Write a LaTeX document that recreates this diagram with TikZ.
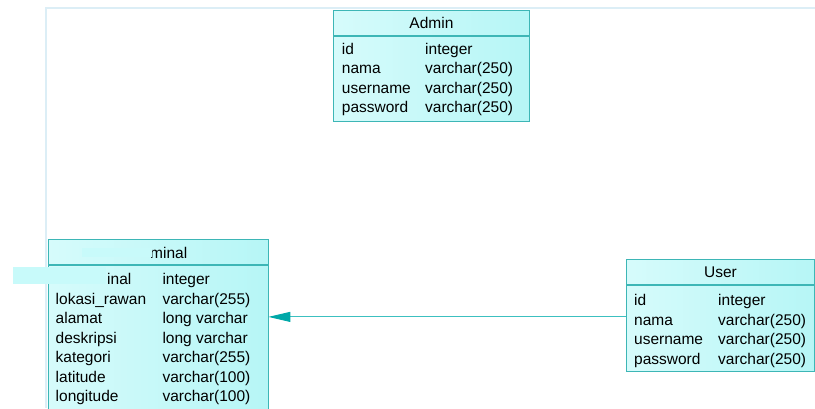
\documentclass[tikz,border=0pt]{standalone}
\usepackage{fontspec}
\setmainfont{Liberation Sans}
\usepackage{tikz}
\usetikzlibrary{positioning,arrows.meta}
\definecolor{EntityLine}{HTML}{3DB6B6}
\definecolor{EntityLight}{HTML}{D6FBFB}
\definecolor{EntityDark}{HTML}{B6F6F6}
\definecolor{FrameBlue}{HTML}{DCEEF6}
\definecolor{LinkTeal}{HTML}{3CC0C0}
\definecolor{TipTeal}{HTML}{00A8A8}
\definecolor{MaskCyan}{HTML}{C8FAFA}

\begin{document}
\begin{tikzpicture}[
      x=1pt, y=1pt,
      every node/.style={font=\fontsize{15.5}{19.5}\selectfont, inner sep=0pt},
      header/.style={draw=EntityLine, line width=0.9pt, left color=EntityLight, right color=EntityDark, minimum width=#1, minimum height=25pt, anchor=north west},
      table/.style={draw=EntityLine, line width=0.9pt, left color=EntityLight, right color=EntityDark, minimum width=#1},
      column/.style={align=left, anchor=base west},
      link/.style={LinkTeal, line width=0.9pt, {Triangle[length=22pt, width=10pt, color=TipTeal]}-}
    ]
      \useasboundingbox (0,0) rectangle (815,408);
      \clip (0,0) rectangle (815,408);
      % diagram frame
      \draw[FrameBlue, line width=2pt] (46,0) -- (46,400) -- (815,400);
      % Admin
      \node[header=196pt] (admin) at (333,398) {Admin};
      \node[table=196pt, minimum height=85pt, below=0pt of admin] (admintab) {};
      \node[column] (adminname) at ([xshift=8.7pt, yshift=-76.8pt]admintab.north west) {id\\nama\\username\\password};
      \node[column] (admintype) at ([xshift=92pt, yshift=-76.8pt]admintab.north west) {integer\\varchar(250)\\varchar(250)\\varchar(250)};
      % User
      \node[header=188pt] (user) at (626,149) {User};
      \node[table=188pt, minimum height=86pt, below=0pt of user] (usertab) {};
      \node[column] (username) at ([xshift=8pt, yshift=-79.5pt]usertab.north west) {id\\nama\\username\\password};
      \node[column] (usertype) at ([xshift=92pt, yshift=-79.5pt]usertab.north west) {integer\\varchar(250)\\varchar(250)\\varchar(250)};
      % Kriminal
      \node[header=220pt] (krim) at (47.5,168.7) {};
      \node[table=220pt, minimum height=150pt, below=0pt of krim] (krimtab) {};
      \node[anchor=base west] (krimtitle) at (150,149.7) {minal};
      \node[anchor=base west] (krimid) at (107,123.7) {inal};
      \node[column] (krimname) at ([xshift=8pt, yshift=-136.5pt]krimtab.north west) {lokasi\_rawan\\alamat\\deskripsi\\kategori\\latitude\\longitude};
      \node[column] (krimtype) at ([xshift=114.8pt, yshift=-136.3pt]krimtab.north west) {integer\\varchar(255)\\long varchar\\long varchar\\varchar(255)\\varchar(100)\\varchar(100)};
      % masked parts
      \fill[MaskCyan] (81.7,150.7) rectangle (151.7,159.7);
      \fill[MaskCyan] (13.3,123.7) rectangle (106,140.7);
      % reference
      \coordinate (userfk) at ([yshift=-32pt]usertab.north west);
      \draw[link] (userfk -| krimtab.east) -- (userfk);
    \end{tikzpicture}
\end{document}
